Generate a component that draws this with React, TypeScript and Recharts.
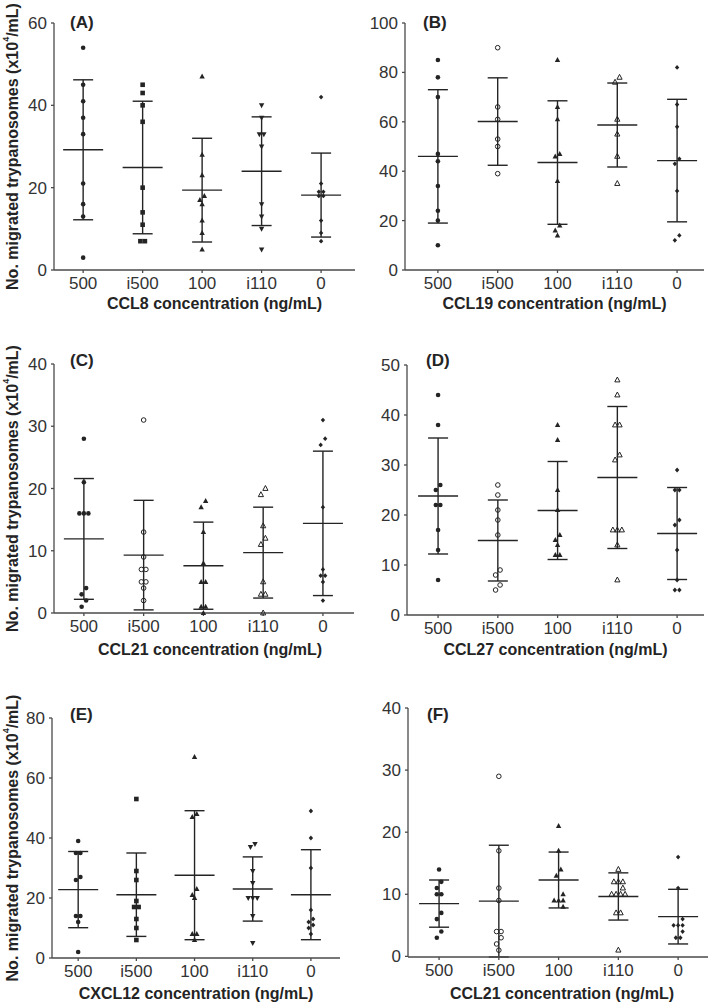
import React from "react";
import { ScatterChart, Scatter, XAxis, YAxis, ErrorBar } from "recharts";

const doses = ["500", "i500", "100", "i110", "0"];

// (A) CCL8
const ccl8Values = [
  [54, 45, 41, 37, 33, 21, 16, 13, 3],
  [45, 43, 40, 36, 20, 14, 11, 7, 7],
  [47, 28, 23, 18, 17, 16, 12, 9, 5],
  [40, 37, 33, 33, 30, 16, 13, 10, 5],
  [42, 21, 19, 19, 18, 18, 12, 9, 7],
];
const ccl8Means = [29.2, 24.9, 19.4, 24.0, 18.2];
const ccl8Sd = [17.0, 16.1, 12.6, 13.2, 10.2];

// (B) CCL19
const ccl19Values = [
  [85, 78, 70, 47, 44, 34, 24, 20, 10],
  [90, 66, 61, 53, 50, 39],
  [85, 66, 61, 47, 46, 36, 18, 16, 14],
  [78, 76, 61, 55, 46, 35],
  [82, 67, 58, 45, 43, 32, 14, 12],
];
const ccl19Means = [46.0, 60.1, 43.5, 58.7, 44.3];
const ccl19Sd = [27.0, 17.7, 25.0, 17.0, 24.8];

// (C) CCL21
const ccl21Values = [
  [28, 21, 16, 16, 16, 4, 3, 2, 1],
  [31, 13, 9, 7, 7, 5, 5, 4, 2],
  [18, 17, 13, 8, 5, 5, 1, 1, 0],
  [20, 19, 14, 12, 11, 5, 3, 3, 0],
  [31, 28, 27, 17, 7, 6, 6, 5, 2],
];
const ccl21Means = [11.9, 9.3, 7.6, 9.7, 14.4];
const ccl21Sd = [9.7, 8.8, 7.0, 7.3, 11.6];

// (D) CCL27
const ccl27Values = [
  [44, 38, 26, 25, 22, 22, 17, 13, 7],
  [26, 24, 21, 19, 16, 9, 8, 6, 5],
  [38, 35, 25, 21, 16, 15, 14, 12, 12],
  [47, 44, 38, 38, 32, 31, 17, 17, 17, 14, 7],
  [29, 25, 25, 19, 18, 13, 7, 5, 5],
];
const ccl27Means = [23.8, 14.9, 20.9, 27.5, 16.3];
const ccl27Sd = [11.6, 8.1, 9.8, 14.2, 9.2];

// (E) CXCL12
const cxcl12Values = [
  [39, 35, 35, 27, 26, 14, 14, 12, 2],
  [53, 29, 26, 19, 17, 17, 13, 10, 6],
  [67, 48, 47, 23, 21, 20, 8, 8, 6],
  [38, 37, 29, 25, 20, 20, 20, 14, 5],
  [49, 40, 30, 16, 13, 12, 11, 10, 8],
];
const cxcl12Means = [22.8, 21.1, 27.6, 23.0, 21.1];
const cxcl12Sd = [12.7, 13.9, 21.5, 10.7, 15.0];

// (F) CCL21, second run
const ccl21bValues = [
  [14, 12, 11, 10, 10, 7, 6, 4, 3],
  [29, 17, 11, 9, 4, 4, 3, 2, 1],
  [21, 17, 14, 13, 10, 9, 9, 9, 8],
  [14, 12, 12, 12, 11, 10, 10, 10, 10, 7, 7, 1],
  [16, 11, 6, 5, 5, 5, 4, 3, 3],
];
const ccl21bMeans = [8.5, 8.9, 12.3, 9.65, 6.4];
const ccl21bSd = [3.8, 9.0, 4.5, 3.8, 4.4];

const FONT = "'Liberation Sans', Arial, Helvetica, sans-serif";
const INK = "#242424";
const AXIS = "#4a4a4a";

const symbolsA = ["dot", "square", "tri", "triDown", "diamond"];
const symbolsB = ["dot", "ring", "tri", "triOpen", "diamond"];

const panels = [
  {
    letter: "(A)", title: "CCL8 concentration (ng/mL)", values: ccl8Values, means: ccl8Means, sd: ccl8Sd,
    yMax: 60, yTicks: [0, 20, 40, 60], symbols: symbolsA, yLabel: true,
    box: { left: 0, top: 0, width: 358, height: 320 }, plot: { left: 54, top: 23, right: 355, bottom: 270 },
    xDomain: [-0.49, 4.57], letterAt: [70, 28], titleY: 303, titleDx: 10,
  },
  {
    letter: "(B)", title: "CCL19 concentration (ng/mL)", values: ccl19Values, means: ccl19Means, sd: ccl19Sd,
    yMax: 100, yTicks: [0, 20, 40, 60, 80, 100], symbols: symbolsB, yLabel: false,
    box: { left: 354, top: 0, width: 355, height: 320 }, plot: { left: 405, top: 23, right: 704, bottom: 270 },
    xDomain: [-0.55, 4.45], letterAt: [423, 28], titleY: 303, titleDx: 0,
  },
  {
    letter: "(C)", title: "CCL21 concentration (ng/mL)", values: ccl21Values, means: ccl21Means, sd: ccl21Sd,
    yMax: 40, yTicks: [0, 10, 20, 30, 40], symbols: symbolsB, yLabel: true,
    box: { left: 0, top: 325, width: 358, height: 335 }, plot: { left: 54, top: 364, right: 354, bottom: 613 },
    xDomain: [-0.5, 4.52], letterAt: [70, 366], titleY: 649, titleDx: 6,
  },
  {
    letter: "(D)", title: "CCL27 concentration (ng/mL)", values: ccl27Values, means: ccl27Means, sd: ccl27Sd,
    yMax: 50, yTicks: [0, 10, 20, 30, 40, 50], symbols: symbolsB, yLabel: false,
    box: { left: 354, top: 325, width: 355, height: 335 }, plot: { left: 407, top: 365, right: 704, bottom: 615 },
    xDomain: [-0.52, 4.45], letterAt: [426, 366], titleY: 649, titleDx: 0,
  },
  {
    letter: "(E)", title: "CXCL12 concentration (ng/mL)", values: cxcl12Values, means: cxcl12Means, sd: cxcl12Sd,
    yMax: 80, yTicks: [0, 20, 40, 60, 80], symbols: symbolsA, yLabel: true,
    box: { left: 0, top: 665, width: 358, height: 340 }, plot: { left: 52, top: 718, right: 340, bottom: 958 },
    xDomain: [-0.45, 4.5], letterAt: [70, 720], titleY: 993, titleDx: 0,
  },
  {
    letter: "(F)", title: "CCL21 concentration (ng/mL)", values: ccl21bValues, means: ccl21bMeans, sd: ccl21bSd,
    yMax: 40, yTicks: [0, 10, 20, 30, 40], symbols: symbolsB, yLabel: false,
    box: { left: 354, top: 665, width: 355, height: 340 }, plot: { left: 408, top: 708, right: 708, bottom: 957 },
    xDomain: [-0.52, 4.5], letterAt: [427, 720], titleY: 993, titleDx: 4,
  },
];

// spread overlapping points sideways, the way the dot plot does it
function spread(values: number[], ppu: number, step: number) {
  const sorted = [...values].sort((a, b) => b - a);
  const rows: number[][] = [];
  sorted.forEach((v) => {
    const last = rows[rows.length - 1];
    if (last && last[0] === v) last.push(v);
    else rows.push([v]);
  });
  const merged: number[][] = [];
  for (let i = 0; i < rows.length; i++) {
    const r = rows[i];
    const n = rows[i + 1];
    if (r.length === 1 && n && n.length === 1 && (r[0] - n[0]) * ppu < 6.5) {
      merged.push([n[0], r[0]]);
      i++;
    } else merged.push(r);
  }
  const out: { dx: number; y: number }[] = [];
  merged.forEach((r, i) => {
    let shift = 0;
    if (r.length === 1) {
      const near = (k: number) =>
        merged[k] && merged[k].length > 1 && merged[k].length % 2 === 1 &&
        Math.abs(merged[k][0] - r[0]) * ppu < 6.5;
      if (near(i - 1) || near(i + 1)) shift = 1;
    }
    r.forEach((v, j) => out.push({ dx: (j - (r.length - 1) / 2 + shift) * step, y: v }));
  });
  return out;
}

const marker = (kind: string) => (props: any) => {
  const { cx, cy } = props;
  if (cx == null || cy == null) return <g />;
  switch (kind) {
    case "square":
      return <rect x={cx - 2.3} y={cy - 2.3} width={4.6} height={4.6} fill={INK} />;
    case "tri":
      return <polygon points={`${cx},${cy - 3} ${cx - 2.7},${cy + 2} ${cx + 2.7},${cy + 2}`} fill={INK} />;
    case "triDown":
      return <polygon points={`${cx},${cy + 3} ${cx - 2.7},${cy - 2} ${cx + 2.7},${cy - 2}`} fill={INK} />;
    case "triOpen":
      return <polygon points={`${cx},${cy - 3} ${cx - 2.6},${cy + 1.9} ${cx + 2.6},${cy + 1.9}`} fill="none" stroke={INK} strokeWidth={1} />;
    case "ring":
      return <circle cx={cx} cy={cy} r={2.3} fill="none" stroke={INK} strokeWidth={1} />;
    case "diamond":
      return <polygon points={`${cx},${cy - 2.4} ${cx + 2.2},${cy} ${cx},${cy + 2.4} ${cx - 2.2},${cy}`} fill={INK} />;
    default:
      return <circle cx={cx} cy={cy} r={2.3} fill={INK} />;
  }
};

const MeanLine = (props: any) => {
  const { cx, cy } = props;
  if (cx == null || cy == null) return <g />;
  return <line x1={cx - 20} x2={cx + 20} y1={cy} y2={cy} stroke={INK} strokeWidth={1.4} />;
};

function Panel({ p }: { p: any }) {
  const { box, plot } = p;
  const ppu = (plot.bottom - plot.top) / p.yMax;
  const pxPerX = (plot.right - plot.left) / (p.xDomain[1] - p.xDomain[0]);
  const step = 4.5 / pxPerX;
  const summary = p.means.map((m: number, i: number) => ({ x: i, y: m, sd: p.sd[i] }));
  const titleX = (plot.left + plot.right) / 2 - box.left + p.titleDx;
  const titleY = p.titleY - box.top + 5.7;
  const yMid = (plot.top + plot.bottom) / 2 - box.top;
  const yLabX = 12 - box.left;

  return (
    <div style={{ position: "absolute", left: box.left, top: box.top }}>
      <ScatterChart
        width={box.width}
        height={box.height}
        margin={{ top: plot.top - box.top, right: box.left + box.width - plot.right, bottom: 0, left: 0 }}
      >
        <XAxis
          type="number"
          dataKey="x"
          domain={p.xDomain}
          ticks={[0, 1, 2, 3, 4]}
          interval={0}
          tickFormatter={(v: number) => doses[v]}
          height={box.top + box.height - plot.bottom}
          tickSize={3}
          tickMargin={4}
          axisLine={{ stroke: AXIS, strokeWidth: 1.3 }}
          tickLine={{ stroke: AXIS, strokeWidth: 1.3 }}
          tick={{ fill: "#333", fontSize: 17, fontFamily: FONT }}
          label={{
            content: () => (
              <text x={titleX} y={titleY} textAnchor="middle" fontFamily={FONT} fontSize={16} fontWeight="bold" fill={INK}>
                {p.title}
              </text>
            ),
          }}
        />
        <YAxis
          type="number"
          dataKey="y"
          domain={[0, p.yMax]}
          ticks={p.yTicks}
          interval={0}
          width={plot.left - box.left}
          tickSize={3}
          tickMargin={4}
          axisLine={{ stroke: AXIS, strokeWidth: 1.3 }}
          tickLine={{ stroke: AXIS, strokeWidth: 1.3 }}
          tick={{ fill: "#333", fontSize: 17, fontFamily: FONT }}
          label={
            p.yLabel
              ? {
                  content: () => (
                    <text
                      x={yLabX}
                      y={yMid}
                      transform={`rotate(-90 ${yLabX} ${yMid})`}
                      textAnchor="middle"
                      dominantBaseline="central"
                      fontFamily={FONT}
                      fontSize={16}
                      fontWeight="bold"
                      fill={INK}
                    >
                      No. migrated trypanosomes (x10
                      <tspan fontSize={9} dy={-6}>4</tspan>
                      <tspan dy={6}>/mL)</tspan>
                    </text>
                  ),
                }
              : undefined
          }
        />
        <Scatter data={summary} shape={MeanLine} isAnimationActive={false}>
          <ErrorBar dataKey="sd" direction="y" width={10} stroke={INK} strokeWidth={1.4} isAnimationActive={false} />
        </Scatter>
        {p.values.map((vals: number[], i: number) => (
          <Scatter
            key={doses[i]}
            data={spread(vals, ppu, step).map((d) => ({ x: i + d.dx, y: d.y }))}
            shape={marker(p.symbols[i])}
            isAnimationActive={false}
          />
        ))}
      </ScatterChart>
    </div>
  );
}

export default function App() {
  return (
    <div style={{ position: "absolute", left: 0, top: 0, width: 709, height: 1005, background: "#fff", overflow: "hidden" }}>
      {panels.map((p) => (
        <Panel key={p.letter} p={p} />
      ))}
      <svg width={709} height={1005} style={{ position: "absolute", left: 0, top: 0, pointerEvents: "none" }}>
        {panels.map((p) => (
          <text key={p.letter} x={p.letterAt[0]} y={p.letterAt[1]} fontFamily={FONT} fontSize={17} fontWeight="bold" fill={INK}>
            {p.letter}
          </text>
        ))}
      </svg>
    </div>
  );
}
